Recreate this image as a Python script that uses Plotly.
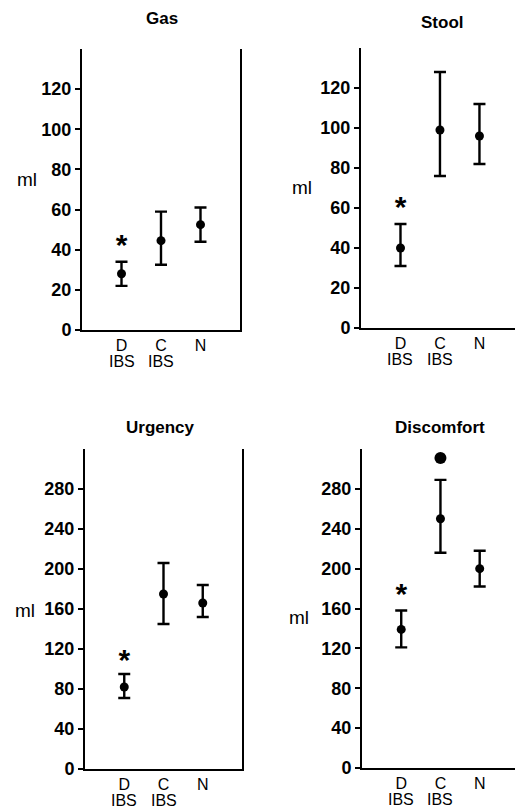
import plotly.graph_objects as go

categories = ["D", "C", "N"]
group_labels = ["IBS", "IBS", ""]
titles = ["Gas", "Stool", "Urgency", "Discomfort"]

gas_mean = [28, 44.5, 52.5]
gas_upper = [34, 59, 61]
gas_lower = [22, 32.5, 44]

stool_mean = [40, 99, 96]
stool_upper = [52, 128, 112]
stool_lower = [31, 76, 82]

urgency_mean = [82, 175, 166]
urgency_upper = [95, 206, 184]
urgency_lower = [71, 145, 152]

discomfort_mean = [139, 250, 200]
discomfort_upper = [158, 289, 218]
discomfort_lower = [121, 216, 182]

discomfort_outlier_cat = ["C"]
discomfort_outlier = [311]

asterisk_gas = 41
asterisk_stool = 59.5
asterisk_urgency = 107
asterisk_discomfort = 172

gas_ticks = [0, 20, 40, 60, 80, 100, 120]
volume_ticks = [0, 40, 80, 120, 160, 200, 240, 280]

FONT = "Liberation Sans, Arial, sans-serif"

W, H = 515, 810

panels = [
    dict(mean=gas_mean, up=gas_upper, lo=gas_lower, ast=asterisk_gas, ticks=gas_ticks,
         yr=[0, 140], xpx=(82, 240), ypx=(49, 330), frame=True, xr=[-1, 3],
         ml=(27, 179), title=(162, 18)),
    dict(mean=stool_mean, up=stool_upper, lo=stool_lower, ast=asterisk_stool, ticks=gas_ticks,
         yr=[0, 140], xpx=(361, 515), ypx=(48, 328), frame=False, xr=[-1, 2.9],
         ml=(302, 188), title=(442, 23)),
    dict(mean=urgency_mean, up=urgency_upper, lo=urgency_lower, ast=asterisk_urgency, ticks=volume_ticks,
         yr=[0, 320], xpx=(85, 242), ypx=(449, 769), frame=True, xr=[-1, 3],
         ml=(25, 610), title=(160, 427)),
    dict(mean=discomfort_mean, up=discomfort_upper, lo=discomfort_lower, ast=asterisk_discomfort, ticks=volume_ticks,
         yr=[0, 320], xpx=(362, 515), ypx=(449, 768), frame=False, xr=[-1, 2.9],
         ml=(299, 617), title=(440, 427)),
]

fig = go.Figure()
annotations = []
layout = {}

for i, p in enumerate(panels):
    n = "" if i == 0 else str(i + 1)
    xa, ya = "x" + n, "y" + n
    err_plus = [u - m for u, m in zip(p["up"], p["mean"])]
    err_minus = [m - l for m, l in zip(p["mean"], p["lo"])]
    fig.add_trace(go.Scatter(
        x=categories, y=p["mean"], mode="markers",
        marker=dict(color="black", size=9),
        error_y=dict(type="data", symmetric=False, array=err_plus, arrayminus=err_minus,
                     color="black", thickness=2.4, width=6),
        xaxis=xa, yaxis=ya, showlegend=False, cliponaxis=False))
    fig.add_trace(go.Scatter(
        x=[categories[0]], y=[p["ast"]], mode="text", text=["*"],
        textfont=dict(family=FONT, size=30, color="black", weight="bold"),
        textposition="middle center",
        xaxis=xa, yaxis=ya, showlegend=False, cliponaxis=False))
    if i == 3:
        fig.add_trace(go.Scatter(
            x=discomfort_outlier_cat, y=discomfort_outlier, mode="markers",
            marker=dict(color="black", size=12),
            xaxis=xa, yaxis=ya, showlegend=False, cliponaxis=False))

    x0, x1 = p["xpx"]
    yt, yb = p["ypx"]
    layout["xaxis" + n] = dict(
        domain=[x0 / W, x1 / W], anchor=ya, type="category",
        categoryorder="array", categoryarray=categories, range=p["xr"],
        showline=True, linecolor="black", linewidth=2, ticks="",
        showgrid=False, zeroline=False, automargin=False,
        tickfont=dict(family=FONT, size=16, color="black"), fixedrange=True)
    layout["yaxis" + n] = dict(
        domain=[1 - yb / H, 1 - yt / H], anchor=xa, range=p["yr"],
        tickvals=p["ticks"], showline=True, linecolor="black", linewidth=2,
        mirror=p["frame"], ticks="outside", ticklen=5, tickwidth=2, tickcolor="black",
        showgrid=False, zeroline=False, automargin=False,
        tickfont=dict(family=FONT, size=18, color="black", weight="bold"), fixedrange=True)
    for cat, grp in zip(categories, group_labels):
        if grp:
            annotations.append(dict(
                x=cat, xref=xa, y=1 - (yb + 31) / H, yref="paper",
                text=grp, showarrow=False,
                font=dict(family=FONT, size=16, color="black"),
                xanchor="center", yanchor="middle", borderpad=0))
    annotations.append(dict(
        x=p["ml"][0] / W, y=1 - p["ml"][1] / H, xref="paper", yref="paper",
        text="ml", showarrow=False, font=dict(family=FONT, size=19, color="black"),
        xanchor="center", yanchor="middle"))
    annotations.append(dict(
        x=p["title"][0] / W, y=1 - p["title"][1] / H, xref="paper", yref="paper",
        text=titles[i], showarrow=False,
        font=dict(family=FONT, size=17, color="black", weight="bold"),
        xanchor="center", yanchor="middle"))

fig.update_layout(
    width=W, height=H, margin=dict(l=0, r=0, t=0, b=0, autoexpand=False),
    paper_bgcolor="white", plot_bgcolor="white",
    annotations=annotations, **layout)

fig.write_html("out.html", config={"displayModeBar": False},
               post_script="document.body.style.margin='0px';document.body.style.overflow='hidden';")
